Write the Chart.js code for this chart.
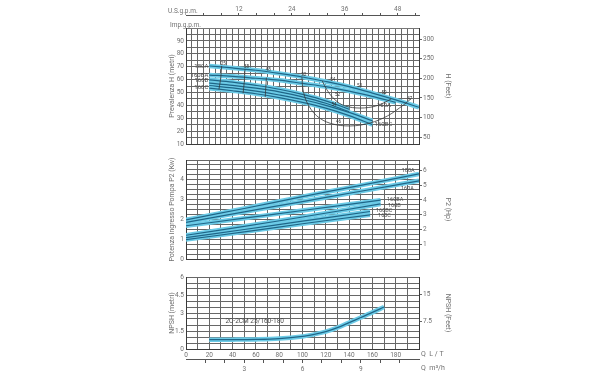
<!DOCTYPE html>
<html>
<head>
<meta charset="utf-8">
<script src="https://cdn.jsdelivr.net/npm/chart.js@4.4.1/dist/chart.umd.min.js"></script>
<style>
  body { margin: 0; background: #fff; }
  #wrap { position: relative; width: 600px; height: 375px; }
  canvas { position: absolute; left: 0; }
</style>
</head>
<body>
<div id="wrap">
  <canvas id="head" width="600" height="150" style="top:0"></canvas>
  <canvas id="power" width="600" height="115" style="top:150px"></canvas>
  <canvas id="npsh" width="600" height="110" style="top:265px"></canvas>
</div>
<script>
// DATA (flow Q in L/min)
// head H (m)
const q180A_H = [20, 40, 60, 80, 100, 120, 140, 160, 180, 200];
const h180A = [70.5, 69, 67.2, 64.8, 62, 58.5, 54.5, 49.5, 44.2, 38.5];
const q160A_H = [20, 40, 60, 80, 100, 120, 140, 160, 180];
const h160A = [63.5, 62.5, 61, 59.5, 57, 54.5, 51, 47, 42.3];
const q160B_H = [20, 40, 60, 80, 100, 120, 140];
const h160BA = [59.8, 58, 55.5, 52.5, 48.5, 43.5, 37];
const h160B = [57.2, 55.5, 53.3, 50.5, 46.6, 41.6, 35];
const q160C_H = [20, 40, 60, 80, 100, 120, 140, 160];
const h160BC = [55.4, 53.5, 51, 48, 44.5, 40, 34.5, 28];
const h160C = [53.3, 51.3, 49, 46, 42.3, 37.8, 32, 25];

// efficiency lines on the head chart
const qEff1 = [30.6, 29.8, 28.3];     const hEff1 = [70.5, 61, 52.5];
const qEff2 = [50.6, 50, 49];         const hEff2 = [68, 58, 49.3];
const qEff3 = [69, 68.5, 68];         const hEff3 = [61.5, 54, 46.5];
const qEff4 = [99.5, 100.5, 104, 112, 124, 141, 158, 173, 187, 193];
const hEff4 = [62, 52, 42, 32, 26, 24, 26.3, 31.8, 40.5, 45];
const qEff5 = [117, 121, 126, 134, 146, 160, 170, 176];
const hEff5 = [58.8, 52, 46, 40.4, 38, 38.8, 42, 45];
const effNumbers = [[32, 72.5, "25"], [52, 70, "38"], [70.5, 67.5, "48"], [101, 64, "52"],
  [126, 60, "54"], [149, 55, "53"], [170, 50, "50"], [192, 45, "47"],
  [130, 48, "52"], [127, 40.5, "54"], [131, 27.5, "46"]];
const headLabels = [[20, 70.2, "180A", "right"], [20, 62.9, "160BA", "right"],
  [20, 59, "160B", "right"], [20, 54.1, "160C", "right"],
  [163, 39.8, "160A", "left"], [161, 24.8, "160BC", "left"]];

// power P2 (kW)
const qP_A = [0, 50, 100, 150, 200];
const p180A = [1.98, 2.55, 3.15, 3.72, 4.3];
const p160A = [1.85, 2.38, 2.9, 3.42, 3.95];
const qP_B = [0, 50, 100, 167];
const p160BA = [1.68, 2.06, 2.45, 2.97];
const p160B = [1.2, 1.65, 2.12, 2.78];
const qP_C = [0, 50, 100, 158];
const p160BC = [1.08, 1.49, 1.91, 2.4];
const p160C = [0.98, 1.37, 1.78, 2.23];
const powerLabels = [[184.3, 4.46, "180A", "left"], [183.7, 3.54, "160A", "left"],
  [171.7, 3.02, "160BA", "left"], [172.5, 2.71, "160B", "left"],
  [162.2, 2.42, "160BC", "left"], [164, 2.2, "160C", "left"]];

// NPSH (m)
const qNpsh = [20, 40, 60, 80, 100, 110, 120, 130, 140, 150, 160, 170];
const npsh = [0.78, 0.78, 0.8, 0.87, 1.05, 1.22, 1.45, 1.78, 2.2, 2.62, 3.05, 3.5];
const npshLabels = [[33, 2.28, "2C-2CM 25/160-180", "left"]];

// unit factors
const US_GAL = 3.78541, IMP_GAL = 4.54609, FT = 0.3048, HP = 0.7457;

// STYLE
const GRID = "#676767";
const EDGE = "#3a3a3a";
const BAND = "#6ccbe7";
const CORE = "#1f6688";
const TXT = "#707070";

Chart.defaults.font.family = "'Liberation Sans Narrow', Roboto, sans-serif";
Chart.defaults.font.size = 6.5;
Chart.defaults.color = TXT;
Chart.defaults.animation = false;
Chart.defaults.plugins.legend.display = false;
Chart.defaults.plugins.tooltip.enabled = false;

const pts = (qs, vs) => qs.map((q, i) => ({ x: q, y: vs[i] }));

function curveSets(list) {
  const out = [];
  list.forEach(([qs, vs]) => {
    out.push({ data: pts(qs, vs), borderColor: BAND, borderWidth: 4.5, order: 3 });
    out.push({ data: pts(qs, vs), borderColor: CORE, borderWidth: 1.2, order: 2 });
  });
  return out;
}

function thinSets(list) {
  return list.map(([qs, vs]) => ({ data: pts(qs, vs), borderColor: "#3a3a3a", borderWidth: 0.8, order: 1 }));
}

function gridX(step, h) {
  return {
    type: "linear", position: "bottom", min: 0, max: 200,
    ticks: { display: false, stepSize: step, autoSkip: false },
    grid: { color: GRID, lineWidth: 1, drawTicks: false },
    border: { color: EDGE },
    afterFit: s => { s.height = h; }
  };
}

function leftAxis(min, max, step, title, show) {
  return {
    type: "linear", position: "left", min, max,
    ticks: { stepSize: step, autoSkip: false, padding: 2, callback: v => show(v) ? String(v) : "" },
    grid: { color: GRID, lineWidth: 1, drawTicks: false },
    border: { color: EDGE },
    title: { display: true, text: title, color: TXT, font: { size: 7 }, padding: { top: 2, bottom: 0 } },
    afterFit: s => { s.width = 20; }
  };
}

function rightAxis(min, max, step, keep, title) {
  return {
    type: "linear", position: "right", min, max,
    ticks: { stepSize: step, autoSkip: false, includeBounds: false, padding: 1 },
    afterBuildTicks: s => { s.ticks = s.ticks.filter(t => keep(t.value)); },
    grid: { drawOnChartArea: false, color: GRID, tickLength: 3 },
    border: { color: EDGE },
    title: { display: true, text: title, color: TXT, font: { size: 7 }, padding: { top: 2, bottom: 0 } },
    afterFit: s => { s.width = 35; }
  };
}

function topAxis(max, weight, h, every, color) {
  return {
    type: "linear", position: "top", weight, min: 0, max,
    ticks: { stepSize: 4, autoSkip: false, includeBounds: false, padding: 0, maxRotation: 0,
      callback: v => v > 0 && v % every === 0 ? String(v) : "" },
    afterBuildTicks: s => { s.ticks = s.ticks.filter(t => t.value > 0 && t.value % 4 === 0); },
    grid: { drawOnChartArea: false, color: color, tickLength: 2 },
    border: { color: color },
    afterFit: s => { s.height = h; }
  };
}

// text placed in data units through the chart's scales
function labelPlugin(id, list, size, color) {
  return {
    id,
    afterDatasetsDraw(chart) {
      const { ctx, scales } = chart;
      ctx.save();
      ctx.font = size + "px " + Chart.defaults.font.family;
      ctx.fillStyle = color;
      ctx.textBaseline = "middle";
      list.forEach(([q, v, text, align]) => {
        ctx.textAlign = align || "center";
        const x = scales.x.getPixelForValue(q) + (align === "right" ? -1 : align === "left" ? 1 : 0);
        ctx.fillText(text, x, scales.y.getPixelForValue(v));
      });
      ctx.restore();
    }
  };
}

function captionPlugin(fn) {
  return {
    id: "captions",
    afterDraw(chart) {
      const { ctx } = chart;
      ctx.save();
      ctx.font = "6.5px " + Chart.defaults.font.family;
      ctx.fillStyle = TXT;
      ctx.textBaseline = "middle";
      ctx.textAlign = "left";
      fn(ctx, chart);
      ctx.restore();
    }
  };
}

const baseOpts = {
  responsive: false,
  maintainAspectRatio: false,
  elements: { point: { radius: 0 }, line: { tension: 0.35, fill: false } },
};
const PAD_L = 166, PAD_R = 146;

// HEAD CHART
new Chart(document.getElementById("head"), {
  type: "line",
  data: {
    datasets: [
      ...curveSets([[q180A_H, h180A], [q160A_H, h160A], [q160B_H, h160BA],
        [q160B_H, h160B], [q160C_H, h160BC], [q160C_H, h160C]]),
      ...thinSets([[qEff1, hEff1], [qEff2, hEff2], [qEff3, hEff3], [qEff4, hEff4], [qEff5, hEff5]])
    ]
  },
  options: {
    ...baseOpts,
    layout: { padding: { left: PAD_L, right: PAD_R, top: 0, bottom: 0 } },
    scales: {
      x: gridX(5, 6),
      xImp: topAxis(200 / IMP_GAL, 0, 13, 12, "#777"),
      xUS: topAxis(200 / US_GAL, 1, 15, 12, "#555"),
      y: leftAxis(10, 100, 5, "Prevalenza H (metri)", v => v % 10 === 0 && v < 100),
      yFt: rightAxis(10 / FT, 100 / FT, 50, v => v % 50 === 0, "H (Feet)")
    }
  },
  plugins: [
    labelPlugin("curveLabels", headLabels, 6, "#4a4a4a"),
    labelPlugin("effNumbers", effNumbers, 4.5, "#333"),
    captionPlugin((ctx, chart) => {
      const left = chart.chartArea.left;
      ctx.fillText("U.S.g.p.m.", left - 18, chart.scales.xUS.bottom - 4);
      ctx.fillText("Imp.g.p.m.", left - 16, chart.scales.xImp.bottom - 3);
    })
  ]
});

// POWER CHART
new Chart(document.getElementById("power"), {
  type: "line",
  data: {
    datasets: curveSets([[qP_A, p180A], [qP_A, p160A], [qP_B, p160BA],
      [qP_B, p160B], [qP_C, p160BC], [qP_C, p160C]])
  },
  options: {
    ...baseOpts,
    layout: { padding: { left: PAD_L, right: PAD_R, top: 10, bottom: 0 } },
    scales: {
      x: gridX(10, 6),
      y: leftAxis(0, 5, 0.25, "Potenza ingresso Pompa P2 (Kw)", v => Number.isInteger(v) && v < 5),
      yHp: rightAxis(0, 5 / HP, 1, v => Number.isInteger(v) && v > 0, "P2 (Hp)")
    }
  },
  plugins: [labelPlugin("curveLabels", powerLabels, 5.5, "#4a4a4a")]
});

// NPSH CHART
new Chart(document.getElementById("npsh"), {
  type: "line",
  data: { datasets: curveSets([[qNpsh, npsh]]) },
  options: {
    ...baseOpts,
    layout: { padding: { left: PAD_L, right: PAD_R, top: 12, bottom: 0 } },
    scales: {
      x: {
        type: "linear", position: "bottom", weight: 0, min: 0, max: 200,
        ticks: { stepSize: 10, autoSkip: false, padding: 2, maxRotation: 0,
          callback: v => v % 20 === 0 && v < 200 ? String(v) : "" },
        grid: { color: GRID, lineWidth: 1, drawTicks: false },
        border: { color: EDGE },
        afterFit: s => { s.height = 10; }
      },
      xM3: {
        type: "linear", position: "bottom", weight: 1, min: 0, max: 12,
        ticks: { stepSize: 1, autoSkip: false, padding: 2, maxRotation: 0,
          callback: v => v % 3 === 0 && v > 0 && v < 12 ? String(v) : "" },
        afterBuildTicks: s => { s.ticks = s.ticks.filter(t => t.value > 0 && t.value < 12); },
        grid: { drawOnChartArea: false, color: "#555", tickLength: 4 },
        border: { color: "#555" },
        afterFit: s => { s.height = 16; }
      },
      y: leftAxis(0, 6, 0.5, "NPSH (metri)", v => v % 1.5 === 0),
      yFt: rightAxis(0, 6 / FT, 7.5, v => v === 7.5 || v === 15, "NPSH (Feet)")
    }
  },
  plugins: [
    labelPlugin("curveLabels", npshLabels, 6.5, "#4a4a4a"),
    captionPlugin((ctx, chart) => {
      const right = chart.chartArea.right;
      ctx.font = "7px " + Chart.defaults.font.family;
      ctx.fillText("Q  L / T", right + 2, chart.scales.x.top + 5.5);
      ctx.fillText("Q  m³/h", right + 2, chart.scales.xM3.top + 9.5);
    })
  ]
});
</script>
</body>
</html>
